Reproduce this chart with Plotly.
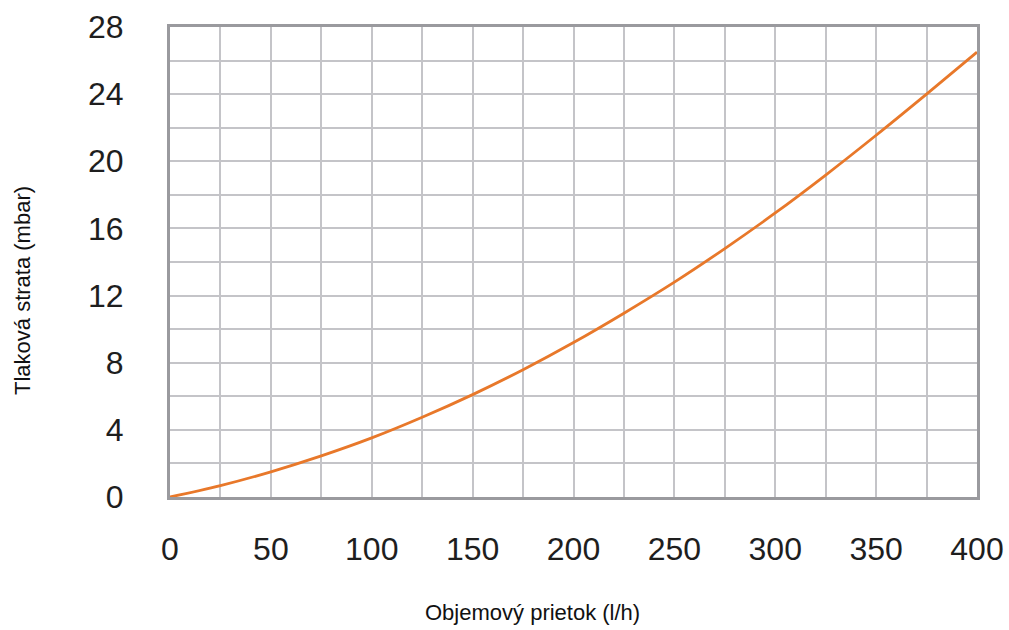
import plotly.graph_objects as go

flow = [0, 25, 50, 75, 100, 125, 150, 175, 200, 225, 250, 275, 300, 325, 350, 375, 400]
pressure_loss = [0, 0.68, 1.5, 2.45, 3.52, 4.75, 6.1, 7.58, 9.2, 10.95, 12.8, 14.8,
                 16.92, 19.18, 21.55, 24.0, 26.5]
x_ticks = [0, 50, 100, 150, 200, 250, 300, 350, 400]
y_ticks = [0, 4, 8, 12, 16, 20, 24, 28]
x_title = "Objemový prietok (l/h)"
y_title = "Tlaková strata (mbar)"

fig = go.Figure()
fig.add_trace(go.Scatter(
    x=flow, y=pressure_loss, mode="lines",
    line=dict(color="#e8782a", width=2.8, shape="spline", smoothing=1.0),
    showlegend=False, hoverinfo="skip",
))

grid_col = "#c4c4c8"
frame_col = "#9a9a9e"
fig.update_layout(
    width=1009, height=630,
    margin=dict(l=170, r=32, t=27, b=133),
    paper_bgcolor="white", plot_bgcolor="white",
    font=dict(family="Liberation Sans, Arial, sans-serif", color="#1e1e1e"),
    xaxis=dict(
        range=[0, 400], tickvals=x_ticks, ticktext=[str(v) for v in x_ticks],
        showgrid=True, gridcolor=grid_col, gridwidth=1.5,
        minor=dict(dtick=25, tick0=0, showgrid=True, gridcolor=grid_col, gridwidth=1.5),
        showline=True, linecolor=frame_col, linewidth=3, mirror=True,
        ticks="", ticklabelstandoff=22, zeroline=False, automargin=False,
        tickfont=dict(size=32, color="#1e1e1e"),
    ),
    yaxis=dict(
        range=[0, 28], tickvals=y_ticks, ticktext=[str(v) for v in y_ticks],
        showgrid=True, gridcolor=grid_col, gridwidth=1.5,
        minor=dict(dtick=2, tick0=0, showgrid=True, gridcolor=grid_col, gridwidth=1.5),
        showline=True, linecolor=frame_col, linewidth=3, mirror=True,
        ticks="", ticklabelstandoff=37, zeroline=False, automargin=False,
        tickfont=dict(size=32, color="#1e1e1e"),
    ),
    annotations=[
        dict(text=x_title, xref="paper", yref="paper", x=0.4498, y=-0.2447,
             xanchor="center", yanchor="middle", showarrow=False,
             font=dict(size=22, color="#111")),
        dict(text=y_title, xref="paper", yref="paper", x=-0.1834, y=0.4404,
             xanchor="center", yanchor="middle", showarrow=False, textangle=-90,
             font=dict(size=22, color="#111")),
    ],
)

fig.write_html(
    "out.html",
    config={"displayModeBar": False},
    post_script="document.body.style.margin='0';document.body.style.overflow='hidden';",
)
